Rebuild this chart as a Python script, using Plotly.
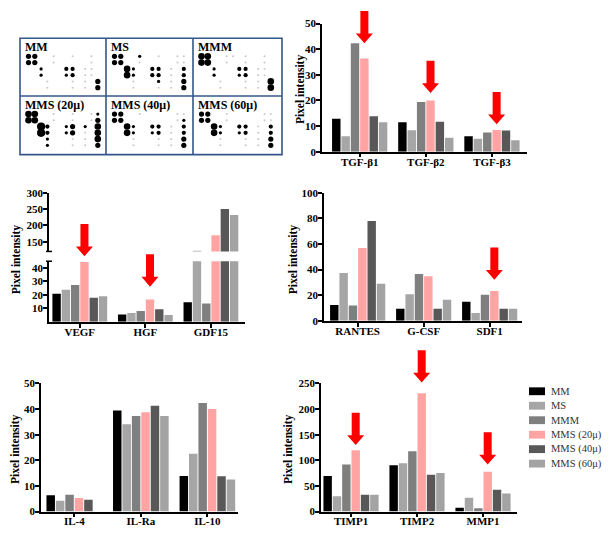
import plotly.graph_objects as go

W, H = 615, 541

# ---------------- data ----------------
series = ["MM", "MS", "MMM", "MMS (20μ)", "MMS (40μ)", "MMS (60μ)"]
colors = ["#000000", "#a6a6a6", "#7f7f7f", "#ffa3a3", "#585858", "#a3a3a3"]

tgf_cats = ["TGF-β1", "TGF-β2", "TGF-β3"]
tgf_MM = [12.9, 11.5, 6.0]
tgf_MS = [6.0, 8.4, 5.1]
tgf_MMM = [42.3, 19.4, 7.5]
tgf_MMS20 = [36.4, 20.0, 8.5]
tgf_MMS40 = [13.8, 11.7, 8.3]
tgf_MMS60 = [11.5, 5.4, 4.5]

gf_cats = ["VEGF", "HGF", "GDF15"]
gf_MM = [20.8, 5.5, 14.6]
gf_MS = [23.8, 6.5, 122]
gf_MMM = [27.3, 8.0, 13.7]
gf_MMS20 = [44.5, 16.5, 170]
gf_MMS40 = [17.9, 9.3, 250]
gf_MMS60 = [18.9, 5.0, 232]

ch_cats = ["RANTES", "G-CSF", "SDF1"]
ch_MM = [12.4, 9.4, 15.0]
ch_MS = [37.3, 20.8, 6.1]
ch_MMM = [11.9, 36.5, 20.3]
ch_MMS20 = [56.9, 34.8, 23.4]
ch_MMS40 = [77.9, 9.4, 9.4]
ch_MMS60 = [28.9, 16.5, 9.4]

il_cats = ["IL-4", "IL-Ra", "IL-10"]
il_MM = [6.4, 39.4, 13.9]
il_MS = [4.2, 34.1, 22.6]
il_MMM = [6.6, 37.3, 42.4]
il_MMS20 = [5.3, 38.8, 40.0]
il_MMS40 = [4.6, 41.3, 13.8]
il_MMS60 = [None, 37.3, 12.5]

tm_cats = ["TIMP1", "TIMP2", "MMP1"]
tm_MM = [69.3, 90.3, 7.6]
tm_MS = [30.0, 94.1, 26.7]
tm_MMM = [91.6, 117.7, 6.4]
tm_MMS20 = [119.6, 231.0, 77.6]
tm_MMS40 = [33.0, 71.9, 42.6]
tm_MMS60 = [33.0, 75.0, 35.0]

# dot-blot membranes: spot intensity level per row (0 = none ... 6 = largest)
blot_names = ["MM", "MS", "MMM", "MMS (20μ)", "MMS (40μ)", "MMS (60μ)"]
blot_MM = ["440010010010", "440010000010", "002000330110", "002000230110", "000100010104", "000100010104"]
blot_MS = ["440020010011", "440010000011", "005200330103", "005200330103", "000100020104", "000100010104"]
blot_MMM = ["550011010010", "550010010010", "002000330110", "002000230110", "000100010105", "000100010105"]
blot_MMS20 = ["550010010012", "550010010014", "006300240205", "006300240105", "000200010105", "000200010104"]
blot_MMS40 = ["440010000011", "440000000012", "005200330103", "005200230103", "000100010104", "000100010104"]
blot_MMS60 = ["440010000011", "440010000011", "005200330103", "005200230103", "000100010104", "000100010104"]

# ---------------- helpers ----------------
def px(x):
    return x / W

def py(y):
    return 1 - y / H

SERIF = "Liberation Serif"
BOLD = dict(family=SERIF, size=11, color="black", weight="bold")
BARGAP, GROUPGAP = 0.15, 0.1

fig = go.Figure()

def axis_common():
    return dict(showline=True, linecolor="black", linewidth=1.5, ticks="outside",
                ticklen=4, tickwidth=1.5, tickcolor="black", showgrid=False,
                zeroline=False, tickfont=BOLD, fixedrange=True)

panels = {}

def add_panel(key, xname, yname, cats, vals, xpx, ypx, xrange, yrange, dtick, tickvals=None):
    xa = axis_common()
    xa.update(type="category", domain=[px(xpx[0]), px(xpx[1])], range=xrange,
              anchor=yname, categoryorder="array", categoryarray=cats,
              ticklabelstandoff=-5)
    ya = axis_common()
    ya.update(domain=[py(ypx[1]), py(ypx[0])], range=yrange, anchor=xname,
              ticklabelstandoff=-2)
    if tickvals is not None:
        ya.update(tickmode="array", tickvals=tickvals)
    else:
        ya.update(dtick=dtick, tick0=0)
    fig.layout["xaxis" + xname[1:]] = xa
    fig.layout["yaxis" + yname[1:]] = ya
    for name, col, v in zip(series, colors, vals):
        fig.add_trace(go.Bar(x=cats, y=v, name=name, marker=dict(color=col, line=dict(width=0)),
                             xaxis=xname, yaxis=yname, showlegend=False))
    panels[key] = (xpx, xrange)

add_panel("tgf", "x", "y", tgf_cats,
          [tgf_MM, tgf_MS, tgf_MMM, tgf_MMS20, tgf_MMS40, tgf_MMS60],
          (322, 527), (18, 149), [-0.57, 2.53], [0, 50], 10)
# broken axis panel: lower part
add_panel("gf", "x2", "y2", gf_cats,
          [gf_MM, gf_MS, gf_MMM, gf_MMS20, gf_MMS40, gf_MMS60],
          (49, 245), (261, 323), [-0.47, 2.52], [0, 45], None, [10, 20, 30, 40])
# upper part of broken axis
ya3 = axis_common()
ya3.update(domain=[py(251), py(191)], range=[120, 300], anchor="x2",
           tickmode="array", tickvals=[150, 200, 250, 300], ticklabelstandoff=-2)
fig.layout["yaxis3"] = ya3
for name, col, v in zip(series, colors, [gf_MM, gf_MS, gf_MMM, gf_MMS20, gf_MMS40, gf_MMS60]):
    fig.add_trace(go.Bar(x=gf_cats, y=v, name=name, marker=dict(color=col, line=dict(width=0)),
                         xaxis="x2", yaxis="y3", showlegend=False))

add_panel("ch", "x3", "y4", ch_cats,
          [ch_MM, ch_MS, ch_MMM, ch_MMS20, ch_MMS40, ch_MMS60],
          (324, 522), (191, 322), [-0.51, 2.49], [0, 100], 20)
add_panel("il", "x4", "y5", il_cats,
          [il_MM, il_MS, il_MMM, il_MMS20, il_MMS40, il_MMS60],
          (41, 238), (386, 517), [-0.50, 2.46], [0, 50], 10)
add_panel("tm", "x5", "y6", tm_cats,
          [tm_MM, tm_MS, tm_MMM, tm_MMS20, tm_MMS40, tm_MMS60],
          (321, 517), (386, 517), [-0.455, 2.515], [0, 250], 50)

shapes = []
annotations = []

# broken-axis caps
for yy in (251, 261):
    shapes.append(dict(type="line", xref="paper", yref="paper", x0=px(46), x1=px(52),
                       y0=py(yy), y1=py(yy), line=dict(color="black", width=1.5)))

# y titles
for (xx, yy) in [(300, 85), (16, 259), (293, 259), (16, 453), (289, 453)]:
    annotations.append(dict(text="Pixel intensity", textangle=-90, x=px(xx), y=py(yy),
                            xref="paper", yref="paper", showarrow=False,
                            font=dict(family=SERIF, size=11.5, color="black", weight="bold"),
                            xanchor="center", yanchor="middle"))

# red arrows above the MMS (20μ) bars
def bar_center_px(key, cat_index, series_index=3):
    (x0, x1), (r0, r1) = panels[key]
    slot = (1 - BARGAP) / len(series)
    off = -(1 - BARGAP) / 2 + slot * (series_index + 0.5)
    return x0 + (cat_index + off - r0) / (r1 - r0) * (x1 - x0)

arrow_tips = [("tgf", 0, 38), ("tgf", 1, 89), ("tgf", 2, 121), ("gf", 0, 256), ("gf", 1, 287),
              ("ch", 2, 280), ("tm", 0, 449), ("tm", 1, 385), ("tm", 2, 469)]
for key, ci, tip in arrow_tips:
    xc = bar_center_px(key, ci)
    top, hh, sw, hw = tip - 33, 10, 4, 8.5
    pts = [(xc - sw, top), (xc + sw, top), (xc + sw, tip - hh), (xc + hw, tip - hh), (xc, tip),
           (xc - hw, tip - hh), (xc - sw, tip - hh)]
    path = "M " + " L ".join(f"{px(a):.5f},{py(b):.5f}" for a, b in pts) + " Z"
    shapes.append(dict(type="path", xref="paper", yref="paper", path=path,
                       fillcolor="#ff0000", line=dict(width=0)))

# legend (manual)
for i, (name, col) in enumerate(zip(series, colors)):
    yc = 394 + i * 14.8
    shapes.append(dict(type="rect", xref="paper", yref="paper", x0=px(529), x1=px(545),
                       y0=py(yc + 4), y1=py(yc - 4), fillcolor=col, line=dict(width=0)))
    annotations.append(dict(text=name, x=px(549), y=py(yc), xref="paper", yref="paper",
                            showarrow=False, xanchor="left", yanchor="middle",
                            font=dict(family=SERIF, size=10.5, color="#333333")))

# dot blot panel
BX0, BX1, BY0, BY1 = 20, 282, 33, 152
cells = [(20, 33), (106, 33), (193, 33), (20, 92), (106, 92), (193, 92)]
blots = [blot_MM, blot_MS, blot_MMM, blot_MMS20, blot_MMS40, blot_MMS60]
size_map = {1: 2.0, 2: 3.2, 3: 4.2, 4: 5.2, 5: 6.6, 6: 8.2}
bx, byy, bs, bc = [], [], [], []
for (cx, cy), blot in zip(cells, blots):
    for r, row in enumerate(blot):
        for c, ch in enumerate(row):
            lvl = int(ch)
            if lvl == 0:
                continue
            bx.append(cx + 8.5 + c * 6.3)
            byy.append(cy + 18.5 + r * 6.4)
            bs.append(size_map[lvl])
            bc.append("#c8c8c8" if lvl == 1 else "#000000")
fig.add_trace(go.Scatter(x=bx, y=byy, mode="markers", xaxis="x6", yaxis="y7",
                         marker=dict(size=bs, color=bc, opacity=1, line=dict(width=0)),
                         showlegend=False, hoverinfo="skip"))
fig.layout["xaxis6"] = dict(domain=[px(BX0), px(BX1)], range=[BX0, BX1], visible=False,
                            anchor="y7", fixedrange=True)
fig.layout["yaxis7"] = dict(domain=[py(BY1), py(BY0)], range=[BY1, BY0], visible=False,
                            anchor="x6", fixedrange=True)
for (cx, cy), name in zip(cells, blot_names):
    annotations.append(dict(text=name, x=px(cx + 3), y=py(cy + 9), xref="paper", yref="paper",
                            showarrow=False, xanchor="left", yanchor="middle",
                            font=dict(family=SERIF, size=12, color="black", weight="bold")))
border = "#34568a"
shapes.append(dict(type="rect", xref="paper", yref="paper", x0=px(BX0), x1=px(BX1),
                   y0=py(BY1), y1=py(BY0), line=dict(color=border, width=1.6)))
for xx in (106, 193):
    shapes.append(dict(type="line", xref="paper", yref="paper", x0=px(xx), x1=px(xx),
                       y0=py(BY1), y1=py(BY0), line=dict(color=border, width=1.6)))
shapes.append(dict(type="line", xref="paper", yref="paper", x0=px(BX0), x1=px(BX1),
                   y0=py(92), y1=py(92), line=dict(color=border, width=1.6)))

fig.update_layout(width=W, height=H, margin=dict(l=0, r=0, t=0, b=0),
                  paper_bgcolor="white", plot_bgcolor="white", showlegend=False,
                  barmode="group", bargap=BARGAP, bargroupgap=GROUPGAP,
                  shapes=shapes, annotations=annotations)

fig.write_html("out.html", config={"displayModeBar": False},
               post_script="document.body.style.margin='0';")
